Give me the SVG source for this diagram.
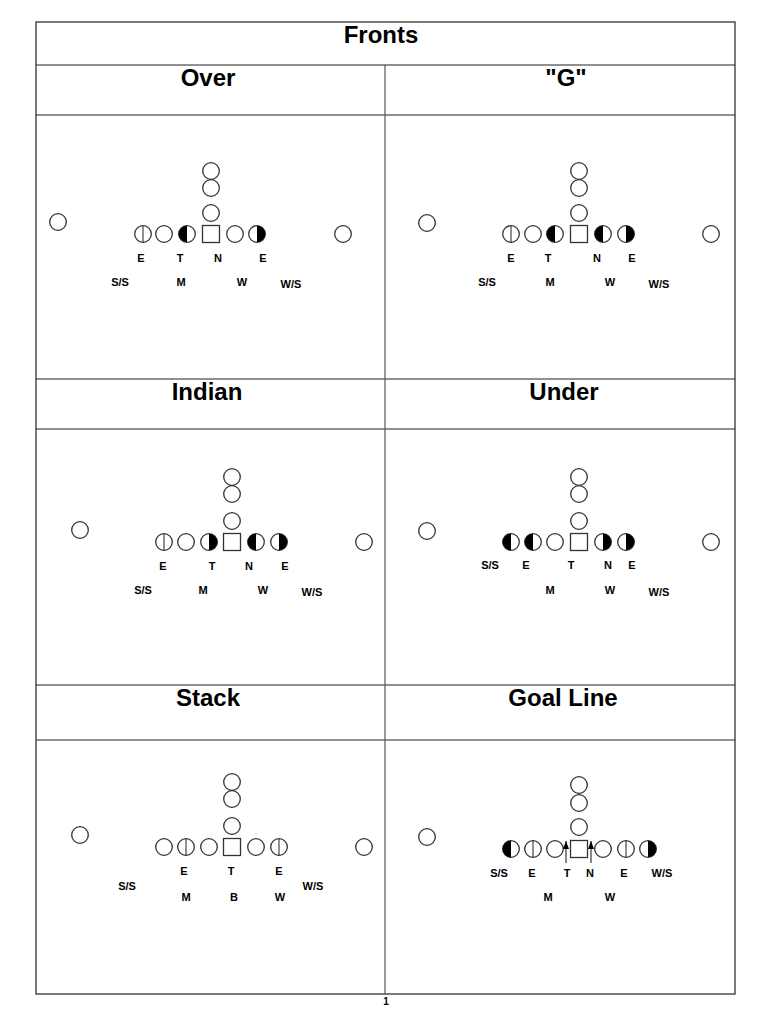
<svg xmlns="http://www.w3.org/2000/svg" xmlns:xlink="http://www.w3.org/1999/xlink" width="768" height="1024" viewBox="0 0 768 1024">
<style>
.grid{stroke:#222;stroke-width:1.2;fill:none}
.vline{stroke:#555;stroke-width:1.2}
.h1{font-family:"Liberation Sans",Arial,sans-serif;font-weight:bold;font-size:24px;fill:#000;text-anchor:middle}
.lb{font-family:"Liberation Sans",Arial,sans-serif;font-weight:bold;font-size:11px;fill:#000;text-anchor:middle}
.pn{font-family:"Liberation Sans",Arial,sans-serif;font-weight:bold;font-size:10px;fill:#000;text-anchor:middle}
.pl{fill:#fff;stroke:#333;stroke-width:1.3}
.blk{fill:#000}
.dv{stroke:#333;stroke-width:1.1}
.arr{stroke:#222;stroke-width:1.1;fill:none}
</style>
<defs>
<g id="o"><circle r="8.3" class="pl"/></g>
<g id="v"><circle r="8.3" class="pl"/><line x1="0" y1="-8.3" x2="0" y2="8.3" class="dv"/></g>
<g id="L"><circle r="8.3" class="pl"/><path d="M0,-8.3 A8.3,8.3 0 0 0 0,8.3 Z" class="blk"/></g>
<g id="R"><circle r="8.3" class="pl"/><path d="M0,-8.3 A8.3,8.3 0 0 1 0,8.3 Z" class="blk"/></g>
<g id="sq"><rect x="-8.5" y="-8.5" width="17" height="17" class="pl"/></g>
<marker id="ah" viewBox="0 0 8 6" refX="8" refY="3" markerWidth="8" markerHeight="6" markerUnits="userSpaceOnUse" orient="auto">
<path d="M0,0 L8,3 L0,6 Z" fill="#000"/>
</marker>
</defs>
<rect width="768" height="1024" fill="#fff"/>
<g id="table">
<rect x="36" y="22" width="699" height="972" class="grid"/>
<line x1="36" y1="65" x2="735" y2="65" class="grid"/>
<line x1="36" y1="115" x2="735" y2="115" class="grid"/>
<line x1="36" y1="379" x2="735" y2="379" class="grid"/>
<line x1="36" y1="429" x2="735" y2="429" class="grid"/>
<line x1="36" y1="685" x2="735" y2="685" class="grid"/>
<line x1="36" y1="740" x2="735" y2="740" class="grid"/>
<line x1="385" y1="65" x2="385" y2="994" class="vline"/>
</g>
<g id="titles">
<text x="381" y="43" class="h1">Fronts</text>
<text x="208" y="86" class="h1">Over</text>
<text x="566" y="86" class="h1">"G"</text>
<text x="207" y="400" class="h1">Indian</text>
<text x="564" y="400" class="h1">Under</text>
<text x="208" y="706" class="h1">Stack</text>
<text x="563" y="706" class="h1">Goal Line</text>
</g>
<g id="over">
<use href="#o" x="58" y="222"/><use href="#o" x="343" y="234"/>
<use href="#o" x="211" y="171"/><use href="#o" x="211" y="188"/><use href="#o" x="211" y="213"/>
<use href="#v" x="143" y="234"/><use href="#o" x="164" y="234"/><use href="#L" x="187" y="234"/>
<use href="#sq" x="211" y="234"/><use href="#o" x="235" y="234"/><use href="#R" x="257" y="234"/>
<text x="141" y="262" class="lb">E</text><text x="180" y="262" class="lb">T</text><text x="218" y="262" class="lb">N</text><text x="263" y="262" class="lb">E</text>
<text x="120" y="286" class="lb">S/S</text><text x="181" y="286" class="lb">M</text><text x="242" y="286" class="lb">W</text><text x="291" y="288" class="lb">W/S</text>
</g>
<g id="g-front">
<use href="#o" x="427" y="223"/><use href="#o" x="711" y="234"/>
<use href="#o" x="579" y="171"/><use href="#o" x="579" y="188"/><use href="#o" x="579" y="213"/>
<use href="#v" x="511" y="234"/><use href="#o" x="533" y="234"/><use href="#L" x="555" y="234"/>
<use href="#sq" x="579" y="234"/><use href="#L" x="603" y="234"/><use href="#R" x="626" y="234"/>
<text x="511" y="262" class="lb">E</text><text x="548" y="262" class="lb">T</text><text x="597" y="262" class="lb">N</text><text x="632" y="262" class="lb">E</text>
<text x="487" y="286" class="lb">S/S</text><text x="550" y="286" class="lb">M</text><text x="610" y="286" class="lb">W</text><text x="659" y="288" class="lb">W/S</text>
</g>
<g id="indian">
<use href="#o" x="80" y="530"/><use href="#o" x="364" y="542"/>
<use href="#o" x="232" y="477"/><use href="#o" x="232" y="494"/><use href="#o" x="232" y="521"/>
<use href="#v" x="164" y="542"/><use href="#o" x="186" y="542"/><use href="#R" x="209" y="542"/>
<use href="#sq" x="232" y="542"/><use href="#L" x="256" y="542"/><use href="#R" x="279" y="542"/>
<text x="163" y="570" class="lb">E</text><text x="212" y="570" class="lb">T</text><text x="249" y="570" class="lb">N</text><text x="285" y="570" class="lb">E</text>
<text x="143" y="594" class="lb">S/S</text><text x="203" y="594" class="lb">M</text><text x="263" y="594" class="lb">W</text><text x="312" y="596" class="lb">W/S</text>
</g>
<g id="under">
<use href="#o" x="427" y="531"/><use href="#o" x="711" y="542"/>
<use href="#o" x="579" y="477"/><use href="#o" x="579" y="494"/><use href="#o" x="579" y="521"/>
<use href="#L" x="511" y="542"/><use href="#L" x="533" y="542"/><use href="#o" x="555" y="542"/>
<use href="#sq" x="579" y="542"/><use href="#R" x="603" y="542"/><use href="#R" x="626" y="542"/>
<text x="490" y="569" class="lb">S/S</text><text x="526" y="569" class="lb">E</text><text x="571" y="569" class="lb">T</text><text x="608" y="569" class="lb">N</text><text x="632" y="569" class="lb">E</text>
<text x="550" y="594" class="lb">M</text><text x="610" y="594" class="lb">W</text><text x="659" y="596" class="lb">W/S</text>
</g>
<g id="stack">
<use href="#o" x="80" y="835"/><use href="#o" x="364" y="847"/>
<use href="#o" x="232" y="782"/><use href="#o" x="232" y="799"/><use href="#o" x="232" y="826"/>
<use href="#o" x="164" y="847"/><use href="#v" x="186" y="847"/><use href="#o" x="209" y="847"/>
<use href="#sq" x="232" y="847"/><use href="#o" x="256" y="847"/><use href="#v" x="279" y="847"/>
<text x="184" y="875" class="lb">E</text><text x="231" y="875" class="lb">T</text><text x="279" y="875" class="lb">E</text>
<text x="127" y="890" class="lb">S/S</text><text x="313" y="890" class="lb">W/S</text>
<text x="186" y="901" class="lb">M</text><text x="234" y="901" class="lb">B</text><text x="280" y="901" class="lb">W</text>
</g>
<g id="goal-line">
<use href="#o" x="427" y="837"/>
<use href="#o" x="579" y="785"/><use href="#o" x="579" y="803"/><use href="#o" x="579" y="827"/>
<use href="#L" x="511" y="849"/><use href="#v" x="533" y="849"/><use href="#o" x="555" y="849"/>
<use href="#sq" x="579" y="849"/><use href="#o" x="603" y="849"/><use href="#v" x="626" y="849"/><use href="#R" x="648" y="849"/>
<text x="499" y="877" class="lb">S/S</text><text x="532" y="877" class="lb">E</text><text x="567" y="877" class="lb">T</text><text x="590" y="877" class="lb">N</text><text x="624" y="877" class="lb">E</text><text x="662" y="877" class="lb">W/S</text>
<text x="548" y="901" class="lb">M</text><text x="610" y="901" class="lb">W</text>
</g>
<g id="connectors">
<line x1="566" y1="863" x2="566" y2="841" class="arr" marker-end="url(#ah)"/>
<line x1="591" y1="863" x2="591" y2="841" class="arr" marker-end="url(#ah)"/>
</g>
<text x="386" y="1005" class="pn">1</text>
</svg>
